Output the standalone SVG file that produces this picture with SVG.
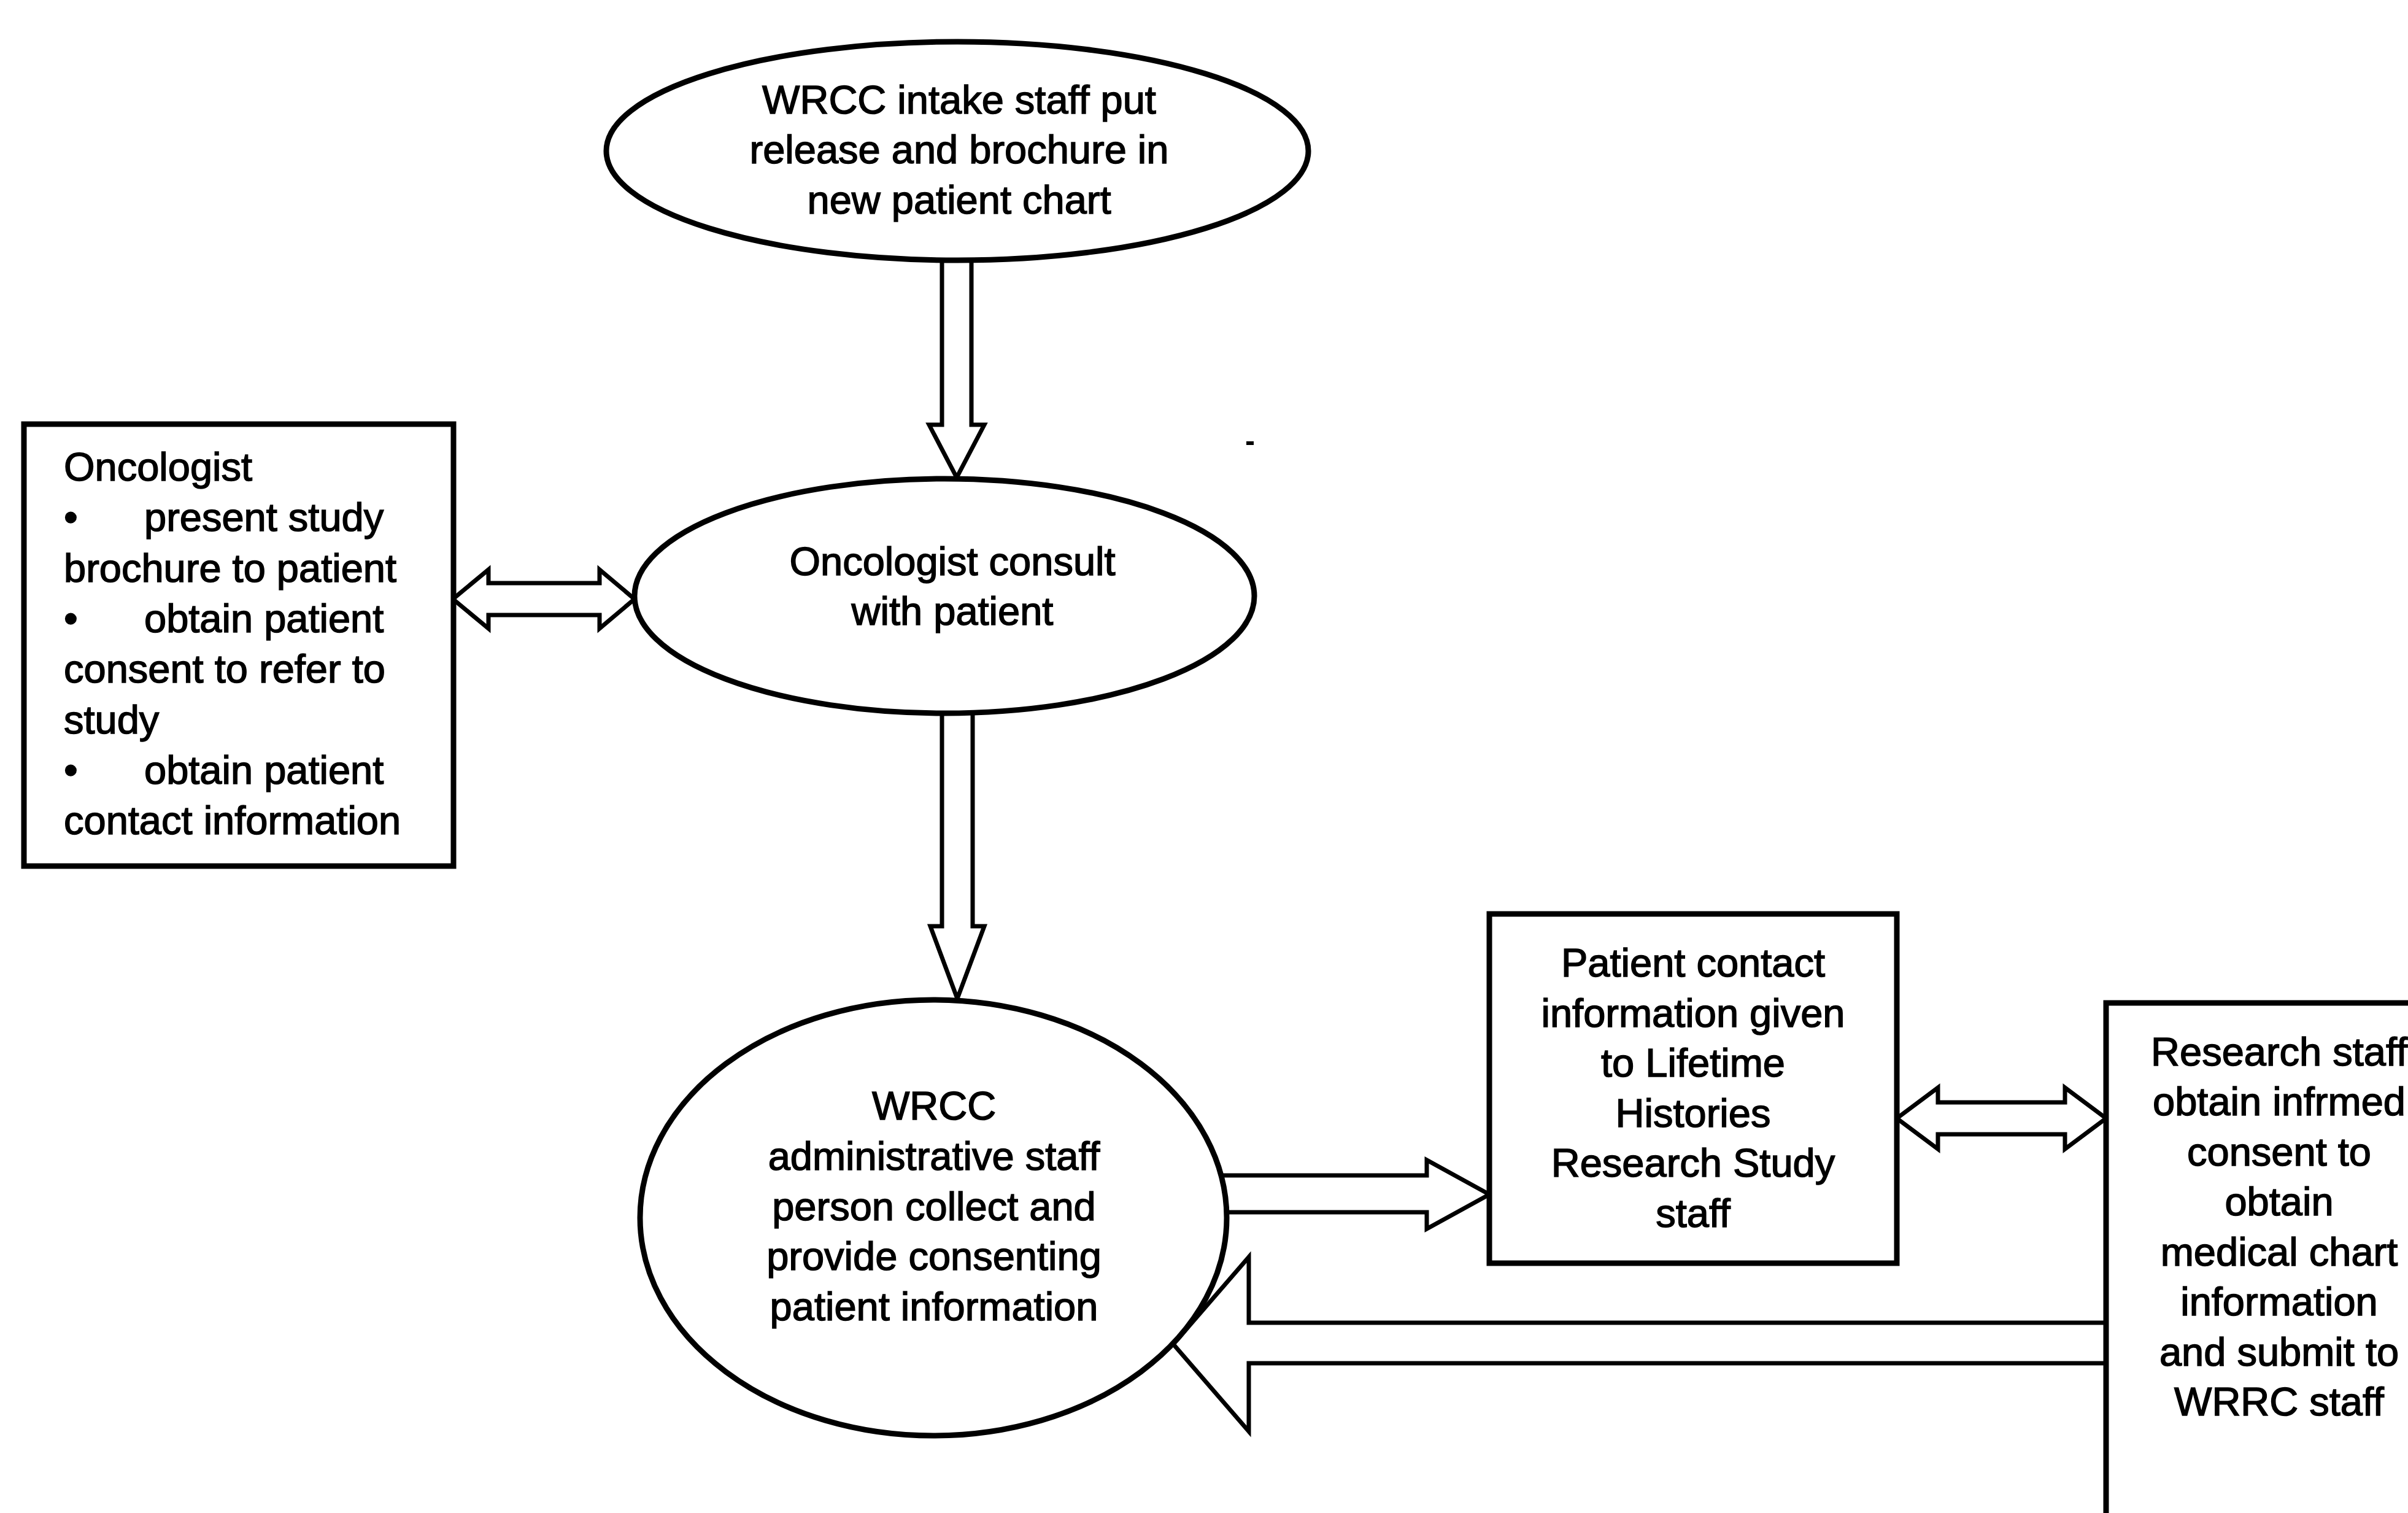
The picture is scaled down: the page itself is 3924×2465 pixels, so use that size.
<svg xmlns="http://www.w3.org/2000/svg" width="3924" height="2465" viewBox="0 0 3924 2465">
<style>
.shape{fill:#fff;stroke:#000;stroke-width:9}
.arrow{fill:#fff;stroke:#000;stroke-width:7;stroke-linejoin:miter}
.t{font-family:"Liberation Sans",Arial,sans-serif;font-size:65px;fill:#000;stroke:#000;stroke-width:1.5}
.c{text-anchor:middle}
</style>
<rect x="0" y="0" width="3924" height="2465" fill="#fff"/>
<g id="connectors">
<path class="arrow" d="M1535,410 L1583,410 L1583,692 L1604,692 L1559,778 L1514,692 L1535,692 Z"/>
<path class="arrow" d="M1535,1150 L1585,1150 L1585,1509 L1604,1509 L1560,1627 L1516,1509 L1535,1509 Z"/>
<path class="arrow" d="M738,976 L796,928 L796,950 L977,950 L977,928 L1034,976 L977,1024 L977,1002 L796,1002 L796,1024 Z"/>
<path class="arrow" d="M1980,1915 L2325,1915 L2325,1890 L2427,1946 L2325,2002 L2325,1975 L1980,1975 Z"/>
<path class="arrow" d="M3091,1822 L3158,1772 L3158,1796 L3365,1796 L3365,1772 L3432,1822 L3365,1872 L3365,1848 L3158,1848 L3158,1872 Z"/>
<path class="arrow" d="M3450,2155 L2035,2155 L2035,2048 L1912,2190 L2035,2332 L2035,2221 L3450,2221 Z"/>
</g>
<g id="node-intake">
<ellipse class="shape" cx="1560" cy="246" rx="572" ry="178"/>
<text class="t c" x="1563" y="185">WRCC intake staff put</text>
<text class="t c" x="1563" y="266">release and brochure in</text>
<text class="t c" x="1563" y="348">new patient chart</text>
</g>
<g id="node-oncologist-box">
<rect class="shape" x="39" y="691" width="700" height="720"/>
<text class="t" x="104" y="783">Oncologist</text>
<text class="t" y="865"><tspan x="104">•</tspan><tspan x="235">present study</tspan></text>
<text class="t" x="104" y="948">brochure to patient</text>
<text class="t" y="1030"><tspan x="104">•</tspan><tspan x="235">obtain patient</tspan></text>
<text class="t" x="104" y="1112">consent to refer to</text>
<text class="t" x="104" y="1195">study</text>
<text class="t" y="1277"><tspan x="104">•</tspan><tspan x="235">obtain patient</tspan></text>
<text class="t" x="104" y="1359">contact information</text>
</g>
<g id="node-consult">
<ellipse class="shape" cx="1539" cy="971" rx="505" ry="191"/>
<text class="t c" x="1552" y="937">Oncologist consult</text>
<text class="t c" x="1552" y="1018">with patient</text>
</g>
<g id="node-admin">
<ellipse class="shape" cx="1521" cy="1984" rx="478" ry="355"/>
<text class="t c" x="1522" y="1824">WRCC</text>
<text class="t c" x="1522" y="1906">administrative staff</text>
<text class="t c" x="1522" y="1988">person collect and</text>
<text class="t c" x="1522" y="2069">provide consenting</text>
<text class="t c" x="1522" y="2151">patient information</text>
</g>
<g id="node-contact">
<rect class="shape" x="2427" y="1489" width="664" height="569"/>
<text class="t c" x="2759" y="1591">Patient contact</text>
<text class="t c" x="2759" y="1673">information given</text>
<text class="t c" x="2759" y="1754">to Lifetime</text>
<text class="t c" x="2759" y="1836">Histories</text>
<text class="t c" x="2759" y="1917">Research Study</text>
<text class="t c" x="2759" y="1999">staff</text>
</g>
<g id="node-research">
<rect class="shape" x="3432" y="1634" width="600" height="900"/>
<text class="t c" x="3714" y="1736">Research staff</text>
<text class="t c" x="3714" y="1817">obtain infrmed</text>
<text class="t c" x="3714" y="1899">consent to</text>
<text class="t c" x="3714" y="1980">obtain</text>
<text class="t c" x="3714" y="2062">medical chart</text>
<text class="t c" x="3714" y="2143">information</text>
<text class="t c" x="3714" y="2225">and submit to</text>
<text class="t c" x="3714" y="2306">WRRC staff</text>
</g>
<rect x="2031" y="719" width="12" height="6" fill="#000"/>
</svg>
